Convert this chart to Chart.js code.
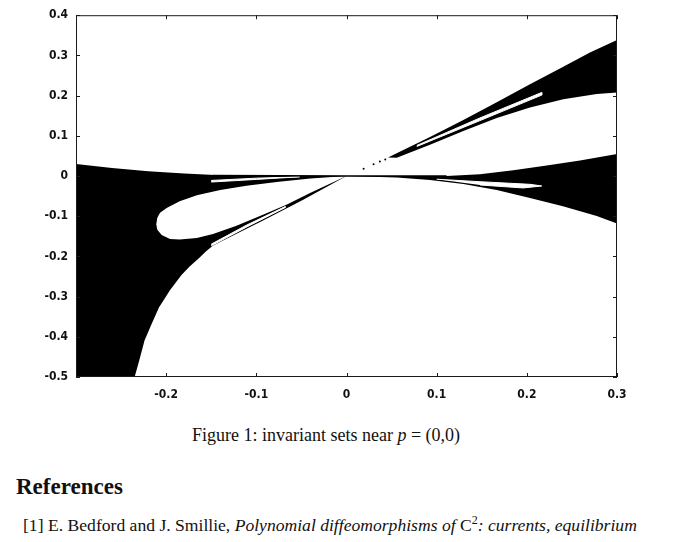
<!DOCTYPE html>
<html>
<head>
<meta charset="utf-8">
<script src="https://cdn.jsdelivr.net/npm/chart.js@4"></script>
<style>
  body { margin: 0; background: #fff; }
  #page { position: relative; width: 686px; height: 542px; overflow: hidden; }
  #plot { position: absolute; left: 0; top: 0; }
  .txt { position: absolute; white-space: nowrap; color: #111; font-family: "Liberation Serif", "DejaVu Serif", serif; line-height: 1; }
  .caption { font-size: 18px; }
  .heading { font-size: 23px; font-weight: bold; }
  .ref { font-size: 17.6px; }
  .ref .num { display: inline-block; width: 25px; }
  sup { font-size: 12px; vertical-align: 7px; line-height: 0; }
</style>
</head>
<body>
<div id="page">
  <canvas id="plot" width="686" height="410"></canvas>
  <div class="txt caption" style="left:192px; top:426px;">Figure 1: invariant sets near <i>p</i> = (0,0)</div>
  <div class="txt heading" style="left:16px; top:475px;">References</div>
  <div class="txt ref" style="left:23px; top:517px;"><span class="num">[1]</span>E. Bedford and J. Smillie, <i>Polynomial diffeomorphisms of</i> C<sup>2</sup><i>: currents, equilibrium</i></div>
</div>
<script>
// [x, y] outlines
const leftRegion = [
    [-0.300, 0.030], [-0.260, 0.020], [-0.220, 0.012], [-0.180, 0.006], [-0.140, 0.002],
    [-0.100, 0.0005], [0, 0],
    [-0.048, -0.059], [-0.092, -0.110], [-0.148, -0.173], [-0.156, -0.1875], [-0.164, -0.205],
    [-0.174, -0.225], [-0.183, -0.246], [-0.196, -0.285], [-0.208, -0.327], [-0.2165, -0.370],
    [-0.224, -0.409], [-0.230, -0.460], [-0.235, -0.500], [-0.300, -0.500]
];
const leftLoop = [
    [-0.211, -0.120], [-0.2098, -0.1037], [-0.2068, -0.0915], [-0.199, -0.079], [-0.185, -0.063],
    [-0.166, -0.048], [-0.140, -0.035], [-0.111, -0.024], [-0.075, -0.0145], [-0.040, -0.0065], [0, 0],
    [-0.041, -0.043], [-0.066, -0.071], [-0.092, -0.096], [-0.122, -0.124], [-0.148, -0.144],
    [-0.166, -0.154], [-0.185, -0.158], [-0.1957, -0.1566], [-0.205, -0.1468], [-0.2098, -0.1337]
];
const leftTopSlit = [
    [-0.150, -0.011], [-0.100, -0.0054], [-0.052, -0.002],
    [-0.100, -0.0085], [-0.150, -0.015]
];
const leftTongueSlit = [
    [-0.150, -0.1695], [-0.111, -0.1224], [-0.068, -0.0761],
    [-0.068, -0.0785], [-0.111, -0.1272], [-0.150, -0.1736]
];
const rightLower = [
    [0, 0], [0.111, 0], [0.148, 0.0045], [0.185, 0.0142], [0.222, 0.0263], [0.259, 0.0385],
    [0.300, 0.055], [0.300, -0.118], [0.2775, -0.0995], [0.240, -0.075], [0.2035, -0.055],
    [0.1666, -0.0346], [0.1296, -0.020], [0.0926, -0.0102], [0.0557, -0.0037]
];
const rightLowerSlit = [
    [0.100, -0.008], [0.148, -0.0142], [0.2035, -0.0207], [0.2165, -0.0248],
    [0.196, -0.0297], [0.148, -0.0224]
];
const rightUpper = [
    [0.046, 0.046], [0.0926, 0.0971], [0.1296, 0.1395], [0.1666, 0.1834], [0.2035, 0.228],
    [0.2404, 0.272], [0.270, 0.307], [0.300, 0.338], [0.300, 0.208], [0.2775, 0.2037],
    [0.2404, 0.1907], [0.2035, 0.1702], [0.1666, 0.1444], [0.1296, 0.1117], [0.0926, 0.0776],
    [0.0557, 0.0451]
];
const rightUpperSlit = [
    [0.078, 0.076], [0.148, 0.1444], [0.2165, 0.2078],
    [0.2165, 0.2012], [0.148, 0.1378], [0.078, 0.0735]
];
const axisLine = [[-0.148, 0.001], [0, 0], [0.111, 0]];
const specks = [[0.019, 0.018], [0.030, 0.029], [0.037, 0.036], [0.043, 0.041]];

const xTicks = [-0.3, -0.2, -0.1, 0, 0.1, 0.2, 0.3];
const xTickLabels = ["", "-0.2", "-0.1", "0", "0.1", "0.2", "0.3"];
const yTicks = [-0.5, -0.4, -0.3, -0.2, -0.1, 0, 0.1, 0.2, 0.3, 0.4];
const yTickLabels = ["-0.5", "-0.4", "-0.3", "-0.2", "-0.1", "0", "0.1", "0.2", "0.3", "0.4"];

function toXY(list) {
    return list.map(p => ({x: p[0], y: p[1]}));
}

function region(list, color, order, width) {
    return {
        data: toXY(list),
        backgroundColor: color,
        borderColor: color,
        borderWidth: width,
        pointRadius: 0,
        fill: "shape",
        tension: 0,
        order: order
    };
}

const tickFont = {family: '"DejaVu Sans Condensed", "Liberation Sans", sans-serif', size: 12, weight: "bold"};

// gnuplot style box with inward ticks on all four sides
const frame = {
    id: "frame",
    afterDatasetsDraw(chart) {
        const {ctx, chartArea: a, scales} = chart;
        ctx.save();
        ctx.strokeStyle = "#1a1a1a";
        ctx.lineWidth = 1;
        ctx.strokeRect(a.left + 0.5, a.top + 0.5, a.right - a.left - 1, a.bottom - a.top - 1);
        ctx.beginPath();
        xTicks.forEach(v => {
            const px = Math.round(scales.x.getPixelForValue(v)) + 0.5;
            ctx.moveTo(px, a.bottom); ctx.lineTo(px, a.bottom - 4);
            ctx.moveTo(px, a.top); ctx.lineTo(px, a.top + 4);
        });
        yTicks.forEach(v => {
            const py = Math.round(scales.y.getPixelForValue(v)) + 0.5;
            ctx.moveTo(a.left, py); ctx.lineTo(a.left + 4, py);
            ctx.moveTo(a.right, py); ctx.lineTo(a.right - 4, py);
        });
        ctx.stroke();
        ctx.restore();
    }
};

var ctx = document.getElementById("plot").getContext("2d");
var myChart = new Chart(ctx, {
    type: "line",
    data: {
        datasets: [
            region(leftRegion, "#000", 3, 0),
            region(rightLower, "#000", 3, 0),
            region(rightUpper, "#000", 3, 0),
            region(leftLoop, "#fff", 2, 0),
            region(leftTopSlit, "#fff", 2, 1),
            region(leftTongueSlit, "#fff", 2, 1),
            region(rightLowerSlit, "#fff", 2, 1),
            region(rightUpperSlit, "#fff", 2, 1),
            {
                data: toXY(axisLine),
                borderColor: "#000",
                borderWidth: 1.5,
                pointRadius: 0,
                fill: false,
                order: 1
            },
            {
                data: toXY(specks),
                showLine: false,
                pointRadius: 1,
                pointBackgroundColor: "#000",
                pointBorderWidth: 0,
                order: 1
            }
        ]
    },
    options: {
        responsive: false,
        animation: false,
        layout: {padding: {top: 8, right: 69, left: 0, bottom: 0}},
        plugins: {legend: {display: false}, tooltip: {enabled: false}},
        scales: {
            x: {
                type: "linear",
                min: -0.3,
                max: 0.3,
                afterBuildTicks: s => { s.ticks = xTicks.map(v => ({value: v})); },
                afterFit: s => { s.height = 33; },
                grid: {display: false, drawTicks: false},
                border: {display: false},
                ticks: {
                    padding: 11,
                    color: "#111",
                    font: tickFont,
                    maxRotation: 0,
                    autoSkip: false,
                    callback: (v, i) => xTickLabels[i]
                }
            },
            y: {
                type: "linear",
                min: -0.5,
                max: 0.4,
                afterBuildTicks: s => { s.ticks = yTicks.map(v => ({value: v})); },
                afterFit: s => { s.width = 76; },
                grid: {display: false, drawTicks: false},
                border: {display: false},
                ticks: {
                    padding: 8,
                    color: "#111",
                    font: tickFont,
                    autoSkip: false,
                    callback: (v, i) => yTickLabels[i]
                }
            }
        }
    },
    plugins: [frame]
});
</script>
</body>
</html>
